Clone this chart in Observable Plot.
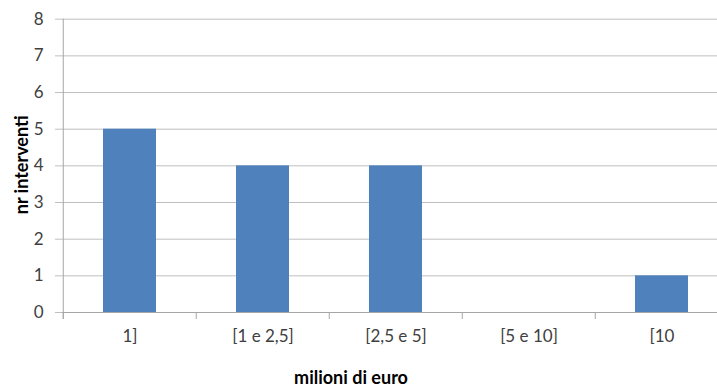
<!DOCTYPE html>
<html>
<head>
<meta charset="utf-8">
<script src="https://cdn.jsdelivr.net/npm/d3@7"></script>
<script src="https://cdn.jsdelivr.net/npm/@observablehq/plot@0.6"></script>
<style>
  html, body { margin: 0; padding: 0; background: #fff; overflow: hidden; }
</style>
</head>
<body>
<div id="chart"></div>
<script>
const categories = ["1]", "[1 e 2,5]", "[2,5 e 5]", "[5 e 10]", "[10"];
const values = [5, 4, 4, 0, 1];
const yTicks = [0, 1, 2, 3, 4, 5, 6, 7, 8];
const yTitle = "nr interventi";
const xTitle = "milioni di euro";

const data = categories.map((c, i) => ({cat: c, value: values[i]}));

const W = 717, H = 390;
const mL = 62, mT = 18.7, mB = 78;
const xRange = [62, 729.5];
const step = (xRange[1] - xRange[0]) / categories.length;

const chart = Plot.plot({
  width: W,
  height: H,
  marginLeft: mL,
  marginTop: mT,
  marginBottom: mB,
  marginRight: 0,
  style: {fontFamily: "Lato, 'Open Sans', sans-serif", fontSize: "17px", color: "#404040", background: "#fff", overflow: "hidden"},
  x: {domain: categories, range: xRange, paddingInner: 0.6, paddingOuter: 0.3},
  y: {domain: [0, 8]},
  marks: [
    Plot.gridY(yTicks, {stroke: "#bfbfbf", strokeOpacity: 1, strokeWidth: 1}),
    Plot.axisY({ticks: yTicks, tickSize: 7, tickPadding: 12, label: null, stroke: "#bfbfbf", fill: "#404040", fontSize: 17}),
    Plot.barY(data, {x: "cat", y: "value", fill: "#4F81BD"}),
    Plot.ruleY([0], {stroke: "#a6a6a6"}),
    Plot.ruleX(categories, {x: d => d, dx: -step / 2, y1: 0, y2: 0, insetBottom: -7, stroke: "#a6a6a6"}),
    Plot.ruleX([categories[0]], {x: d => d, dx: -step / 2, y1: 8, y2: 0, insetBottom: -7, stroke: "#a6a6a6"}),
    Plot.axisX({tickSize: 0, tickPadding: 17, label: null, fill: "#404040", fontSize: 17}),
    Plot.text([yTitle], {frameAnchor: "left", textAnchor: "middle", rotate: -90, dx: -40, dy: -1, fontWeight: "bold", fontSize: 18, fill: "#000"}),
    Plot.text([xTitle], {frameAnchor: "bottom", dx: -39, dy: 71, fontWeight: "bold", fontSize: 18, fill: "#000"})
  ]
});
document.getElementById("chart").append(chart);
</script>
</body>
</html>
